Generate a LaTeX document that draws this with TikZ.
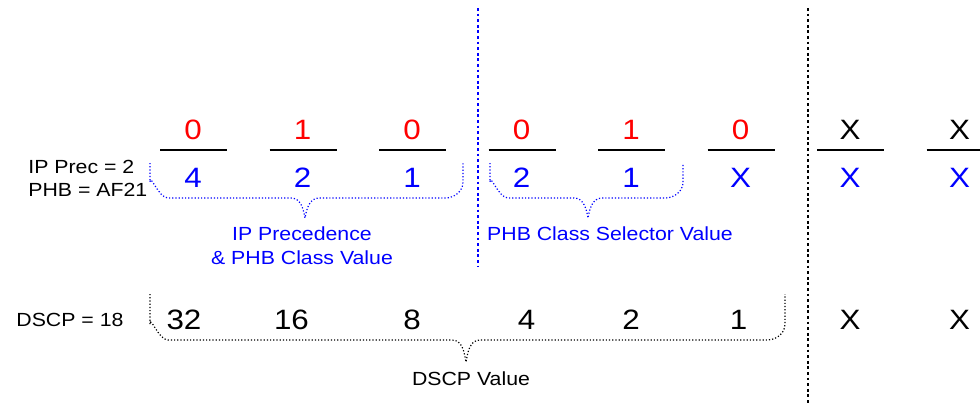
\documentclass[tikz,border=0pt]{standalone}
\usepackage{fontspec}
\setmainfont{Liberation Sans}[FakeStretch=1.12]
\usetikzlibrary{positioning}
\tikzset{
x=0.5pt, y=-0.5pt, % one unit is one pixel of the original figure
node distance=54.75pt, % spacing between two bit columns
bit/.style={text=red, font=\fontsize{14}{16}\selectfont}, % the bit values on top
free/.style={bit, text=black}, % bits that are not used
code/.style={text=blue, font=\fontsize{14}{16}\selectfont}, % weights of the class bits
weight/.style={text=black, font=\fontsize{14}{16}\selectfont}, % weights of the DSCP bits
note/.style={font=\fontsize{9.5}{12}\selectfont, align=center, inner sep=1pt}, % small labels
slot/.style={line width=1.1pt}, % line under each bit
divider/.style={line width=1.3pt, dash pattern=on 1.4pt off 1.4pt}, % vertical separators
bracket/.style={line width=0.6pt, densely dotted}, % group braces
}
% style, left x, right x, tip x, top y, bottom y, tip y
\newcommand{\valuebrace}[7]{%
\draw[#1] (#2,#5) -- (#2,#6-16) to[out=90,in=180] (#2+18,#6) -- (#4-14,#6)
  to[out=0,in=100] (#4,#7) to[out=80,in=180] (#4+14,#6) -- (#3-18,#6)
  to[out=0,in=-90] (#3,#6-16) -- (#3,#5);}

\begin{document}
\begin{tikzpicture}
\useasboundingbox (0,0) rectangle (980,404);

% bit values
\node[bit] (t1) at (193,130) {0};
\node[bit, right of=t1] (t2) {1};
\node[bit, right of=t2] (t3) {0};
\node[bit, right of=t3] (t4) {0};
\node[bit, right of=t4] (t5) {1};
\node[bit, right of=t5] (t6) {0};
\node[free, right of=t6] (t7) {X};
\node[free, right of=t7] (t8) {X};

\foreach \i in {1,...,8}
  \draw[slot] ([shift={(-33,20)}]t\i.center) -- ++(67,0);

% class weights
\foreach \i/\v in {1/4, 2/2, 3/1, 4/2, 5/1, 6/X, 7/X, 8/X}
  \node[code, below of=t\i, node distance=24pt] (c\i) {\v};

% DSCP weights
\foreach \i/\v/\s in {1/32/-4.5pt, 2/16/-5.5pt, 3/8/0pt, 4/4/2.5pt, 5/2/0pt, 6/1/-1pt, 7/X/0pt, 8/X/0pt}
  \node[weight, below of=t\i, node distance=95pt, xshift=\s] (w\i) {\v};

\node[note, anchor=west] (prec) at (26,167) {IP Prec = 2};
\node[note, anchor=west] (phb) at (26,190) {PHB = AF21};
\node[note, anchor=west] (dscp) at (14,320) {DSCP = 18};

\draw[divider, blue] (478,8) -- (478,266);
\draw[divider] (808,8) -- (808,404);

\valuebrace{bracket, blue}{150}{463}{305}{163}{198}{218}
\valuebrace{bracket, blue}{490}{683}{588}{163}{198}{218}
\valuebrace{bracket}{150}{785}{466}{294}{340}{362}

\node[note, text=blue] (group) at (302,246) {IP Precedence\\\& PHB Class Value};
\node[note, text=blue] (selector) at (610,234) {PHB Class Selector Value};
\node[note] (dscpvalue) at (471,379) {DSCP Value};
\end{tikzpicture}
\end{document}
